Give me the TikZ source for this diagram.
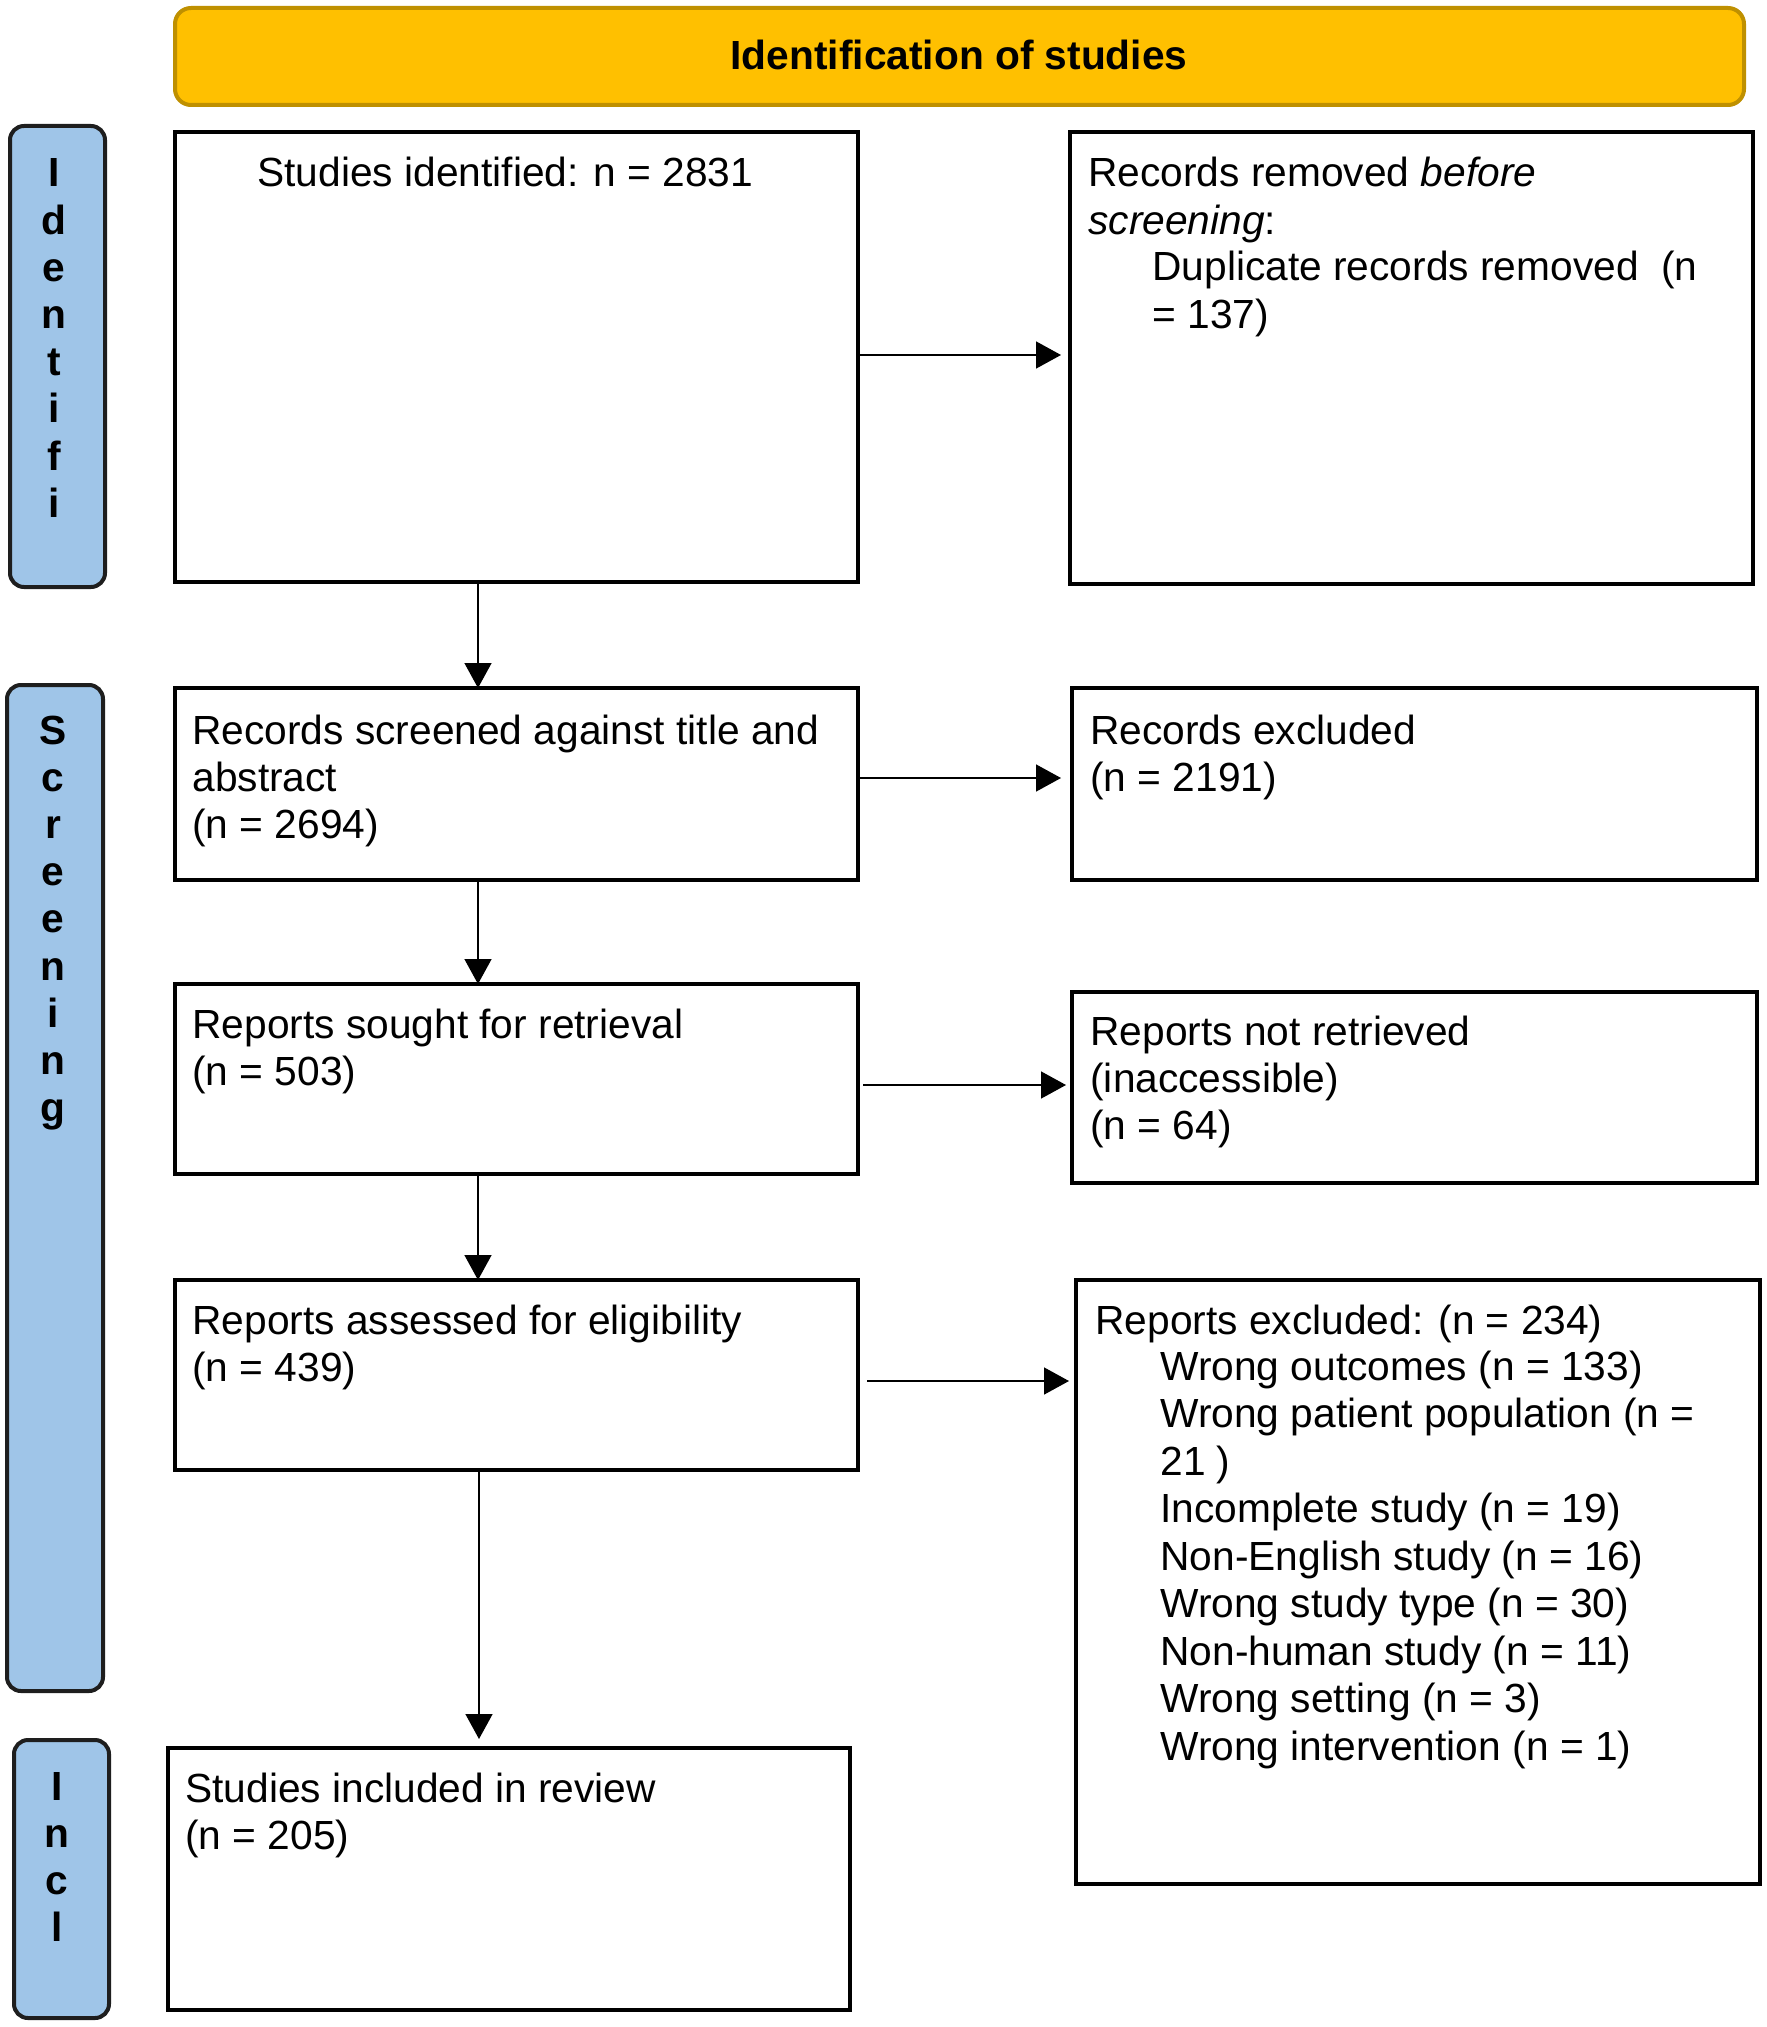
\documentclass[tikz,border=0pt]{standalone}
\usepackage{fontspec}
\setmainfont{Liberation Sans}
\usetikzlibrary{arrows.meta}
\definecolor{gold}{HTML}{FFC000}
\definecolor{goldline}{HTML}{BF9000}
\definecolor{lblue}{HTML}{9FC5E8}
\definecolor{laneline}{HTML}{1E1E1E}
\newcommand{\mylines}[1]{\begin{tabular}[t]{@{}l@{}}#1\end{tabular}}
\newcommand{\mycol}[1]{\begin{tabular}[t]{@{}c@{}}#1\end{tabular}}
\begin{document}
\begin{tikzpicture}[x=0.5pt,y=-0.5pt,
  every node/.style={font=\fontsize{20.35pt}{23.6pt}\selectfont},
  box/.style={draw=black, line width=2pt, fill=white, inner sep=0pt, outer sep=0pt},
  lane/.style={draw=laneline, fill=lblue, line width=2pt, rounded corners=7pt, inner sep=0pt, outer sep=0pt},
  hdr/.style={draw=goldline, fill=gold, line width=2pt, rounded corners=8pt, inner sep=0pt, outer sep=0pt},
  txt/.style={anchor=base west, inner sep=0pt},
  lanetxt/.style={anchor=base, inner sep=0pt, font=\fontsize{20.35pt}{23.6pt}\selectfont\bfseries},
  arr/.style={line width=0.75pt, -{Triangle[length=12.5pt,width=13.5pt]}}
]
\useasboundingbox (0,0) rectangle (1766,2027);

% header
\node[hdr, minimum width=784.5pt, minimum height=48.5pt] (hdr) at (959.5,56.5) {};
\node[anchor=base, inner sep=0pt, font=\fontsize{20.35pt}{23.6pt}\selectfont\bfseries] (title) at (959,70) {Identification of studies};

% lanes
\node[lane, minimum width=47.5pt, minimum height=230.5pt] (lane1) at (57.5,356.5) {};
\node[lane, minimum width=48pt, minimum height=503pt] (lane2) at (55,1188) {};
\node[lane, minimum width=47.5pt, minimum height=139pt] (lane3) at (61.5,1879) {};
\node[lanetxt] (l1) at (54,187) {\mycol{I\\d\\e\\n\\t\\i\\f\\i}};
\node[lanetxt] (l2) at (53,744) {\mycol{S\\c\\r\\e\\e\\n\\i\\n\\g}};
\node[lanetxt] (l3) at (57,1800) {\mycol{I\\n\\c\\l}};

% boxes
\node[box, minimum width=341.5pt, minimum height=225pt] (b1) at (516.5,357) {};
\node[box, minimum width=341.5pt, minimum height=226pt] (b2) at (1411.5,358) {};
\node[box, minimum width=341.5pt, minimum height=96pt] (b3) at (516.5,784) {};
\node[box, minimum width=342.5pt, minimum height=96pt] (b4) at (1414.5,784) {};
\node[box, minimum width=341.5pt, minimum height=95pt] (b5) at (516.5,1079) {};
\node[box, minimum width=342.5pt, minimum height=95.5pt] (b6) at (1414.5,1087.5) {};
\node[box, minimum width=341.5pt, minimum height=95pt] (b7) at (516.5,1375) {};
\node[box, minimum width=342pt, minimum height=302pt] (b8) at (1418,1582) {};
\node[box, minimum width=341pt, minimum height=131pt] (b9) at (509,1879) {};

% texts
\node[txt] (t1) at (257,187) {Studies identified: n = 2831};
\node[txt] (t2) at (1088,187) {\mylines{Records removed \textit{before}\\\textit{screening}:}};
\node[txt] (t2b) at (1152,281) {\mylines{Duplicate records removed\ \ (n\\= 137)}};
\node[txt] (t3) at (192,744) {\mylines{Records screened against title and\\abstract\\(n = 2694)}};
\node[txt] (t4) at (1090,744) {\mylines{Records excluded\\(n = 2191)}};
\node[txt] (t5) at (192,1038) {\mylines{Reports sought for retrieval\\(n = 503)}};
\node[txt] (t6) at (1090,1045) {\mylines{Reports not retrieved\\(inaccessible)\\(n = 64)}};
\node[txt] (t7) at (192,1334) {\mylines{Reports assessed for eligibility\\(n = 439)}};
\node[txt] (t8) at (1095,1334) {Reports excluded: (n = 234)};
\node[txt, font=\fontsize{20.35pt}{23.75pt}\selectfont] (t8b) at (1160,1380) {\mylines{Wrong outcomes (n = 133)\\Wrong patient population (n =\\21 )\\Incomplete study (n = 19)\\Non-English study (n = 16)\\Wrong study type (n = 30)\\Non-human study (n = 11)\\Wrong setting (n = 3)\\Wrong intervention (n = 1)}};
\node[txt] (t9) at (185,1802) {\mylines{Studies included in review\\(n = 205)}};

% vertical arrows
\draw[arr] (b1.south -| 478,0) -- (b3.north -| 478,0);
\draw[arr] (b3.south -| 478,0) -- (b5.north -| 478,0);
\draw[arr] (b5.south -| 478,0) -- (b7.north -| 478,0);
\draw[arr] (b7.south -| 479,0) -- ([yshift=4.5pt]b9.north -| 479,0);

% horizontal arrows
\draw[arr, shorten <=1pt, shorten >=4.5pt] (b1.east |- 0,355) -- (b2.west |- 0,355);
\draw[arr, shorten <=1pt, shorten >=5.5pt] (b3.east |- 0,778) -- (b4.west |- 0,778);
\draw[arr, shorten <=2.5pt, shorten >=3pt] (b5.east |- 0,1085) -- (b6.west |- 0,1085);
\draw[arr, shorten <=4.5pt, shorten >=3.5pt] (b7.east |- 0,1381) -- (b8.west |- 0,1381);
\end{tikzpicture}
\end{document}
